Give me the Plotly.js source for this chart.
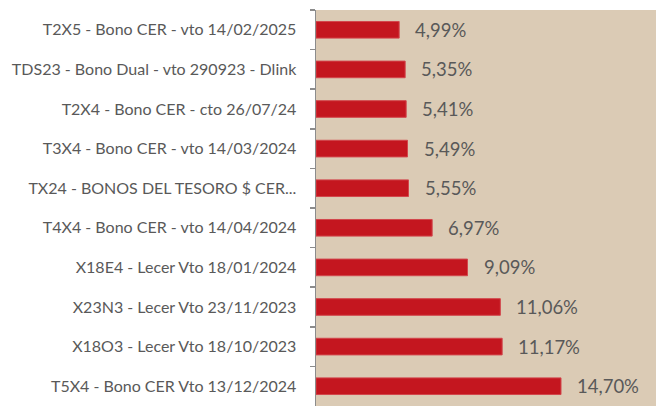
<!DOCTYPE html>
<html>
<head>
<meta charset="utf-8">
<script src="https://cdn.plot.ly/plotly-3.0.1.min.js"></script>
<style>html,body{margin:0;padding:0;background:#fff;}#chart{width:657px;height:406px;}</style>
</head>
<body>
<div id="chart"></div>
<script>
const categories = [
  "T2X5 - Bono CER - vto 14/02/2025",
  "TDS23 - Bono Dual - vto 290923 - Dlink",
  "T2X4 - Bono CER - cto 26/07/24",
  "T3X4 - Bono CER - vto 14/03/2024",
  "TX24 - BONOS DEL TESORO $ CER...",
  "T4X4 - Bono CER - vto 14/04/2024",
  "X18E4 - Lecer Vto 18/01/2024",
  "X23N3 - Lecer Vto 23/11/2023",
  "X18O3 - Lecer Vto 18/10/2023",
  "T5X4 - Bono CER Vto 13/12/2024"
];
const values = [4.99, 5.35, 5.41, 5.49, 5.55, 6.97, 9.09, 11.06, 11.17, 14.70];
const valueLabels = ["4,99%", "5,35%", "5,41%", "5,49%", "5,55%", "6,97%", "9,09%", "11,06%", "11,17%", "14,70%"];

const FONT = "Lato, 'Open Sans', sans-serif";
const TXT = "#595959";

const trace = {
  type: "bar",
  orientation: "h",
  x: values,
  y: categories,
  marker: { color: "#C4161F", line: { color: "#D2464C", width: 1 } },
  width: 0.42,
  hoverinfo: "none"
};

const annotations = values.map((v, i) => ({
  x: v, y: categories[i], xref: "x", yref: "y",
  text: valueLabels[i], showarrow: false,
  xanchor: "left", yanchor: "middle", xshift: 14,
  font: { family: FONT, size: 18.5, color: TXT }
}));

const layout = {
  width: 657, height: 406,
  margin: { l: 316, r: 1, t: 10, b: 0, pad: 0 },
  paper_bgcolor: "#ffffff",
  plot_bgcolor: "#DBCBB5",
  showlegend: false,
  xaxis: { range: [0, 20.4], visible: false, fixedrange: true },
  yaxis: {
    type: "category",
    autorange: "reversed",
    showline: true, linecolor: "#8C8C8C", linewidth: 1.5,
    ticks: "outside", ticklen: 5, tickcolor: "#8C8C8C", tickwidth: 1.5,
    tickson: "boundaries",
    showgrid: false, zeroline: false,
    ticklabelstandoff: 15,
    tickfont: { family: FONT, size: 16, color: TXT }
  },
  annotations: annotations
};

Plotly.newPlot("chart", [trace], layout, { displayModeBar: false, staticPlot: true });
</script>
</body>
</html>
